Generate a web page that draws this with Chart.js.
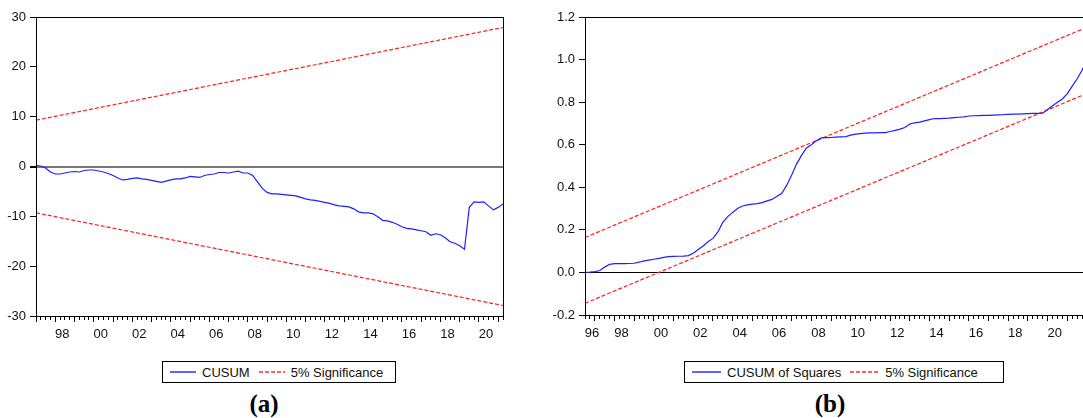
<!DOCTYPE html>
<html>
<head>
<meta charset="utf-8">
<script src="https://cdn.jsdelivr.net/npm/chart.js@4/dist/chart.umd.min.js"></script>
<style>
  body { margin:0; width:1083px; height:418px; overflow:hidden; position:relative; background:#fff; }
  canvas { position:absolute; top:0; }
  .legend { position:absolute; top:361px; height:20px; border:1px solid #000; display:flex; align-items:center;
            font:13px "Liberation Sans", Arial, sans-serif; color:#111; box-sizing:content-box; }
  .legend .item { display:flex; align-items:center; gap:6px; }
  .cap { position:absolute; top:390px; font:bold 25px "Liberation Serif", "Times New Roman", serif; line-height:27px;
         transform:translateX(-50%); color:#000; }
</style>
</head>
<body>
<canvas id="chartA" width="540" height="345" style="left:0;width:540px;height:345px"></canvas>
<canvas id="chartB" width="560" height="345" style="left:540px;width:560px;height:345px"></canvas>
<div class="legend" id="legendA" style="left:162px;width:225px;padding-left:7px;"></div>
<div class="legend" id="legendB" style="left:684px;width:311px;padding-left:7px;"></div>
<div class="cap" style="left:264px">(a)</div>
<div class="cap" style="left:830px">(b)</div>

<script>
// quarterly category labels
function quarterRange(year, q, count){
  const out = [];
  for(let i=0;i<count;i++){
    out.push(year+'Q'+q);
    q++; if(q>4){ q=1; year++; }
  }
  return out;
}

// (a) CUSUM, 1997Q1 - 2021Q2
const cusumQuarters = quarterRange(1997, 1, 98);
const cusum = [
  0.2, 0.1, -0.3, -1.1, -1.5, -1.5, -1.3, -1.1, -1.0, -1.1,
  -0.8, -0.7, -0.7, -0.9, -1.1, -1.4, -1.8, -2.3, -2.7, -2.6,
  -2.4, -2.3, -2.5, -2.6, -2.8, -3.0, -3.2, -2.95, -2.7, -2.5,
  -2.5, -2.3, -2.0, -2.1, -2.2, -1.8, -1.6, -1.5, -1.2, -1.2,
  -1.3, -1.1, -0.95, -1.3, -1.3, -1.8, -3.1, -4.4, -5.2, -5.5,
  -5.5, -5.6, -5.7, -5.8, -5.9, -6.2, -6.5, -6.7, -6.8, -7.0,
  -7.2, -7.4, -7.7, -7.9, -8.0, -8.1, -8.5, -9.1, -9.3, -9.3,
  -9.5, -10.1, -10.8, -10.9, -11.2, -11.6, -12.1, -12.4, -12.5, -12.7,
  -12.9, -13.1, -13.8, -13.5, -13.7, -14.3, -15.1, -15.4, -15.9, -16.6,
  -8.2, -7.1, -7.2, -7.1, -7.9, -8.7, -8.2, -7.5
];
const cusumUpper = [9.3, 27.9];   // first / last quarter
const cusumLower = [-9.3, -27.9];
const cusumTicks = { min:-30, max:30, step:10 };

// (b) CUSUM of squares, 1996Q3 - 2022Q1
const sqQuarters = quarterRange(1996, 3, 103);
const cusumSq = [
  0.000, 0.001, 0.004, 0.009, 0.025, 0.038, 0.041, 0.041, 0.041, 0.042,
  0.043, 0.048, 0.054, 0.058, 0.062, 0.066, 0.071, 0.074, 0.075, 0.076,
  0.077, 0.079, 0.090, 0.108, 0.124, 0.144, 0.160, 0.190, 0.235, 0.262,
  0.282, 0.300, 0.312, 0.317, 0.321, 0.323, 0.328, 0.336, 0.343, 0.358,
  0.372, 0.410, 0.458, 0.510, 0.550, 0.585, 0.600, 0.618, 0.632, 0.633,
  0.634, 0.636, 0.637, 0.638, 0.645, 0.650, 0.652, 0.654, 0.656, 0.656,
  0.657, 0.657, 0.662, 0.667, 0.673, 0.681, 0.697, 0.703, 0.706, 0.712,
  0.718, 0.723, 0.723, 0.724, 0.725, 0.727, 0.729, 0.731, 0.735, 0.736,
  0.737, 0.738, 0.738, 0.739, 0.740, 0.741, 0.743, 0.744, 0.744, 0.745,
  0.746, 0.747, 0.747, 0.748, 0.765, 0.783, 0.800, 0.815, 0.840, 0.875,
  0.910, 0.950, 1.000
];
const sqUpper = [0.164, 1.152];
const sqLower = [-0.145, 0.841];
const sqTicks = { min:-0.2, max:1.2, step:0.2 };

const FONT = { family:'"Liberation Sans", Arial, sans-serif', size:13 };
const BLUE = '#1f1fff', RED = '#ff2020';

// box round the plot area
const framePlugin = {
  id:'frame',
  afterDraw(chart){
    const a = chart.chartArea, c = chart.ctx;
    c.save();
    c.strokeStyle = '#000'; c.lineWidth = 1;
    c.strokeRect(Math.round(a.left)+0.5, Math.round(a.top)+0.5, Math.round(a.right-a.left), Math.round(a.bottom-a.top));
    c.restore();
  }
};

function bandLine(labels, vals){
  return [{x:labels[0], y:vals[0]}, {x:labels[labels.length-1], y:vals[1]}];
}

function makeChart(id, labels, series, seriesLabel, upper, lower, ticks, opts){
  const isYearStart = ctx => {
    const lab = ctx.chart.data.labels[ctx.tick.value];
    return lab && lab.endsWith('Q1');
  };
  return new Chart(document.getElementById(id), {
    type:'line',
    data:{
      labels: labels,
      datasets:[
        { label:seriesLabel, data:series, borderColor:BLUE, borderWidth:1.2, pointRadius:0, tension:0 },
        { label:'5% Significance', data:bandLine(labels, upper), borderColor:RED, borderWidth:1.2, borderDash:[4,2], pointRadius:0 },
        { label:'5% Significance', data:bandLine(labels, lower), borderColor:RED, borderWidth:1.2, borderDash:[4,2], pointRadius:0 }
      ]
    },
    options:{
      responsive:false, animation:false, devicePixelRatio:1,
      layout:{ padding:{ top:17, right:opts.padRight, left:0, bottom:0 } },
      plugins:{ legend:{ display:false }, tooltip:{ enabled:false } },
      scales:{
        x:{
          type:'category', offset:false,
          afterFit: s => { s.height = opts.xHeight; },
          border:{ display:true, color:'#000', width:1 },
          grid:{ display:true, drawOnChartArea:false, drawTicks:true, tickLength:6, tickColor:'#000', tickWidth:1,
                 tickBorderDash: ctx => isYearStart(ctx) ? [] : [3, 20] },
          ticks:{
            autoSkip:false, maxRotation:0, minRotation:0, padding:5, labelOffset:7,
            color:'#111', font:FONT,
            callback(value, index){
              const lab = this.getLabelForValue(value);
              const yr = +lab.slice(0,4);
              // first observation also carries its year when the year is even
              return ((lab.endsWith('Q1') || index === 0) && yr % 2 === 0) ? lab.slice(2,4) : '';
            }
          }
        },
        y:{
          min:ticks.min, max:ticks.max,
          afterFit: s => { s.width = opts.yWidth; },
          border:{ display:true, color:'#000', width:1 },
          grid:{
            drawOnChartArea:true, drawTicks:true, tickLength:6, tickColor:'#000',
            color: ctx => Math.abs(ctx.tick.value) < 1e-9 ? opts.zeroColor : 'rgba(0,0,0,0)',
            lineWidth: ctx => Math.abs(ctx.tick.value) < 1e-9 ? opts.zeroWidth : 1
          },
          ticks:{ stepSize:ticks.step, padding:4, color:'#111', font:FONT, callback:opts.yFormat }
        }
      }
    },
    plugins:[framePlugin]
  });
}

function buildLegend(chart, el){
  const seen = new Set();
  chart.data.datasets.forEach((ds, i) => {
    if(seen.has(ds.label)) return;
    seen.add(ds.label);
    const item = document.createElement('span');
    item.className = 'item';
    item.style.marginRight = i === 0 ? '9px' : '0';
    const w = el.dataset.sample;
    const dash = (ds.borderDash || []).join(' ');
    item.innerHTML = '<svg width="'+w+'" height="4"><line x1="0" y1="2" x2="'+w+'" y2="2" stroke="'+ds.borderColor+
      '" stroke-opacity="0.7" stroke-width="2" stroke-dasharray="'+dash+'"/></svg><span>'+ds.label+'</span>';
    el.appendChild(item);
  });
}

const chartA = makeChart('chartA', cusumQuarters, cusum, 'CUSUM', cusumUpper, cusumLower, cusumTicks,
  { padRight:37, xHeight:29, yWidth:36, zeroColor:'#777', zeroWidth:2, yFormat: v => String(v) });
const chartB = makeChart('chartB', sqQuarters, cusumSq, 'CUSUM of Squares', sqUpper, sqLower, sqTicks,
  { padRight:13, xHeight:30, yWidth:45, zeroColor:'#000', zeroWidth:1,
    yFormat: v => (Math.abs(v) < 1e-9 ? 0 : v).toFixed(1) });

document.getElementById('legendA').dataset.sample = 26;
document.getElementById('legendB').dataset.sample = 29;
buildLegend(chartA, document.getElementById('legendA'));
buildLegend(chartB, document.getElementById('legendB'));
</script>
</body>
</html>
